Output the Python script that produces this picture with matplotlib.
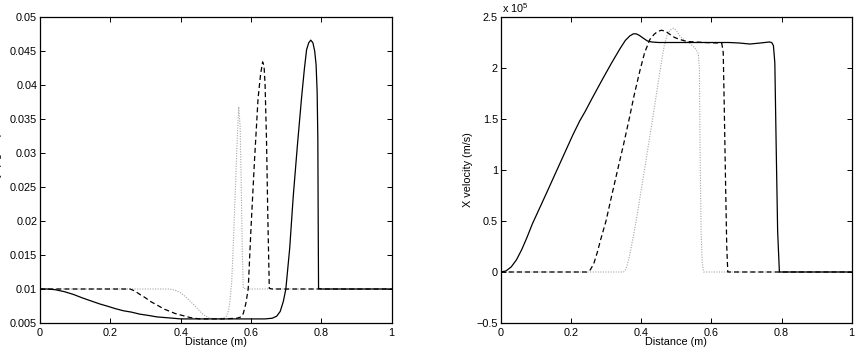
#!/usr/bin/python

import matplotlib
matplotlib.use("Agg")
import matplotlib.pyplot as plt

plt.rcParams["font.family"] = ["Liberation Sans", "DejaVu Sans"]
plt.rcParams["font.size"] = 7.8
plt.rcParams["mathtext.fontset"] = "custom"
plt.rcParams["mathtext.rm"] = "Liberation Sans"

# Density (kg/m^3) vs distance (m), three times
rho_solid_x = [0, 0.02, 0.043, 0.07, 0.095, 0.12, 0.142, 0.17, 0.19, 0.215, 0.237, 0.26, 0.284,
               0.31, 0.332, 0.355, 0.379, 0.40, 0.427, 0.46, 0.50, 0.55, 0.60, 0.64, 0.66, 0.673,
               0.683, 0.692, 0.699, 0.71, 0.72, 0.732, 0.744, 0.752, 0.758, 0.764, 0.77, 0.776,
               0.781, 0.785, 0.788, 0.79, 0.791, 0.792, 0.80, 0.90, 1.0]
rho_solid = [0.0100, 0.0100, 0.0099, 0.0096, 0.0092, 0.0087, 0.0083, 0.0078, 0.0075, 0.0071,
             0.0068, 0.0066, 0.0063, 0.0061, 0.0059, 0.0058, 0.0057, 0.0056, 0.0056, 0.0056,
             0.0056, 0.0056, 0.0056, 0.0056, 0.0057, 0.0060, 0.0067, 0.0082, 0.0100, 0.0160,
             0.0236, 0.0312, 0.0383, 0.0425, 0.0452, 0.0462, 0.0466, 0.0462, 0.0450, 0.0430,
             0.0390, 0.0320, 0.0200, 0.0101, 0.0100, 0.0100, 0.0100]

rho_dash_x = [0, 0.1, 0.2, 0.256, 0.27, 0.284, 0.30, 0.313, 0.327, 0.341, 0.355, 0.37, 0.384,
              0.398, 0.413, 0.427, 0.44, 0.455, 0.48, 0.52, 0.56, 0.572, 0.578, 0.585, 0.592,
              0.60, 0.61, 0.62, 0.627, 0.633, 0.637, 0.640, 0.644, 0.648, 0.652, 0.66, 0.8, 1.0]
rho_dash = [0.0100, 0.0100, 0.0100, 0.0100, 0.0097, 0.0092, 0.0087, 0.0082, 0.0078, 0.0074,
            0.0070, 0.0067, 0.0064, 0.0062, 0.0060, 0.0058, 0.0057, 0.0056, 0.0056, 0.0056,
            0.0057, 0.0059, 0.0064, 0.0078, 0.0100, 0.0190, 0.0290, 0.0380, 0.0415, 0.0434,
            0.0428, 0.0400, 0.0320, 0.0200, 0.0101, 0.0100, 0.0100, 0.0100]

rho_dot_x = [0, 0.2, 0.37, 0.385, 0.398, 0.413, 0.427, 0.437, 0.446, 0.455, 0.465, 0.475, 0.483,
             0.50, 0.521, 0.53, 0.536, 0.54, 0.545, 0.55, 0.555, 0.56, 0.565, 0.569, 0.572, 0.575,
             0.578, 0.59, 0.8, 1.0]
rho_dot = [0.0100, 0.0100, 0.0100, 0.0098, 0.0095, 0.0089, 0.0082, 0.0077, 0.0072, 0.0067,
           0.0062, 0.0059, 0.0057, 0.0056, 0.0057, 0.0060, 0.0068, 0.0082, 0.0110, 0.0170,
           0.0240, 0.0310, 0.0368, 0.0340, 0.0260, 0.0160, 0.0101, 0.0100, 0.0100, 0.0100]

# X velocity (x 1e5 m/s) vs distance (m)
vel_solid_x = [0, 0.015, 0.03, 0.045, 0.06, 0.075, 0.09, 0.11, 0.13, 0.155, 0.18, 0.205, 0.225,
               0.24, 0.26, 0.29, 0.316, 0.34, 0.355, 0.368, 0.378, 0.386, 0.395, 0.405, 0.418,
               0.43, 0.45, 0.55, 0.65, 0.68, 0.71, 0.74, 0.765, 0.772, 0.777, 0.781, 0.785,
               0.789, 0.794, 0.80, 1.0]
vel_solid = [0, 0.01, 0.05, 0.12, 0.22, 0.34, 0.47, 0.62, 0.77, 0.96, 1.15, 1.34, 1.48, 1.57,
             1.70, 1.89, 2.05, 2.19, 2.27, 2.315, 2.335, 2.335, 2.32, 2.295, 2.265, 2.255, 2.25,
             2.25, 2.25, 2.245, 2.235, 2.245, 2.255, 2.25, 2.22, 2.05, 1.20, 0.40, 0.0, 0.0, 0.0]

vel_dash_x = [0, 0.1, 0.2, 0.245, 0.255, 0.265, 0.275, 0.285, 0.30, 0.315, 0.333, 0.35, 0.366,
              0.38, 0.397, 0.41, 0.425, 0.437, 0.448, 0.458, 0.47, 0.482, 0.495, 0.51, 0.53,
              0.58, 0.62, 0.63, 0.634, 0.637, 0.641, 0.644, 0.647, 0.66, 0.8, 1.0]
vel_dash = [0, 0, 0, 0, 0.02, 0.08, 0.19, 0.32, 0.50, 0.73, 1.00, 1.25, 1.50, 1.73, 1.98, 2.15,
            2.28, 2.33, 2.36, 2.37, 2.36, 2.33, 2.30, 2.28, 2.26, 2.25, 2.245, 2.24, 2.15, 1.60,
            0.80, 0.25, 0.0, 0.0, 0.0, 0.0]

vel_dot_x = [0, 0.2, 0.35, 0.355, 0.36, 0.367, 0.375, 0.387, 0.40, 0.411, 0.423, 0.435, 0.447,
             0.459, 0.466, 0.473, 0.482, 0.492, 0.50, 0.511, 0.525, 0.54, 0.549, 0.557, 0.563,
             0.566, 0.568, 0.571, 0.574, 0.578, 0.59, 0.8, 1.0]
vel_dot = [0, 0, 0, 0.02, 0.06, 0.16, 0.30, 0.52, 0.80, 1.03, 1.29, 1.55, 1.82, 2.08, 2.22, 2.31,
           2.37, 2.39, 2.37, 2.31, 2.27, 2.24, 2.21, 2.18, 2.14, 2.00, 1.20, 0.40, 0.10, 0.0, 0.0,
           0.0, 0.0]

x_ticks = [0, 0.2, 0.4, 0.6, 0.8, 1]
x_ticklabels = ["0", "0.2", "0.4", "0.6", "0.8", "1"]
rho_ticks = [0.005, 0.01, 0.015, 0.02, 0.025, 0.03, 0.035, 0.04, 0.045, 0.05]
rho_ticklabels = ["0.005", "0.01", "0.015", "0.02", "0.025", "0.03", "0.035", "0.04", "0.045", "0.05"]
vel_ticks = [-0.5, 0, 0.5, 1, 1.5, 2, 2.5]
vel_ticklabels = ["\u22120.5", "0", "0.5", "1", "1.5", "2", "2.5"]

fig = plt.figure(figsize=(8.58, 3.56), dpi=100)
ax1 = fig.add_axes([40 / 858, 33 / 356, 351.7 / 858, 306 / 356])
ax2 = fig.add_axes([500.7 / 858, 33 / 356, 351 / 858, 306 / 356])


def style(ax):
    ax.tick_params(direction="in", top=True, right=True, length=3.5, width=0.7, pad=2)
    ax.tick_params(axis="x", pad=3.5)
    for s in ax.spines.values():
        s.set_linewidth(0.9)


ax1.plot(rho_dot_x, rho_dot, color="0.65", lw=0.8, dashes=(1, 1.3))
ax1.plot(rho_dash_x, rho_dash, color="k", lw=0.9, dashes=(4, 2.5))
ax1.plot(rho_solid_x, rho_solid, color="k", lw=0.9)
ax1.set_xlim(0, 1)
ax1.set_ylim(0.005, 0.05)
ax1.set_xticks(x_ticks)
ax1.set_xticklabels(x_ticklabels)
ax1.set_yticks(rho_ticks)
ax1.set_yticklabels(rho_ticklabels)
ax1.set_xlabel("Distance (m)", va="top")
ax1.xaxis.set_label_coords(0.5, -0.046)
ax1.set_ylabel("Density (kg/m$^3$)")
ax1.yaxis.set_label_coords(-0.1, 0.5)
style(ax1)

ax2.plot(vel_dot_x, vel_dot, color="0.65", lw=0.8, dashes=(1, 1.3))
ax2.plot(vel_dash_x, vel_dash, color="k", lw=0.9, dashes=(4, 2.5))
ax2.plot(vel_solid_x, vel_solid, color="k", lw=0.9)
ax2.set_xlim(0, 1)
ax2.set_ylim(-0.5, 2.5)
ax2.set_xticks(x_ticks)
ax2.set_xticklabels(x_ticklabels)
ax2.set_yticks(vel_ticks)
ax2.set_yticklabels(vel_ticklabels)
ax2.set_xlabel("Distance (m)", va="top")
ax2.xaxis.set_label_coords(0.5, -0.046)
ax2.set_ylabel("X velocity (m/s)")
ax2.yaxis.set_label_coords(-0.08, 0.5)
ax2.text(0.004, 1.008, "x 10$^{5}$", transform=ax2.transAxes, va="bottom", ha="left")
style(ax2)

fig.savefig("out.png", dpi=100)
